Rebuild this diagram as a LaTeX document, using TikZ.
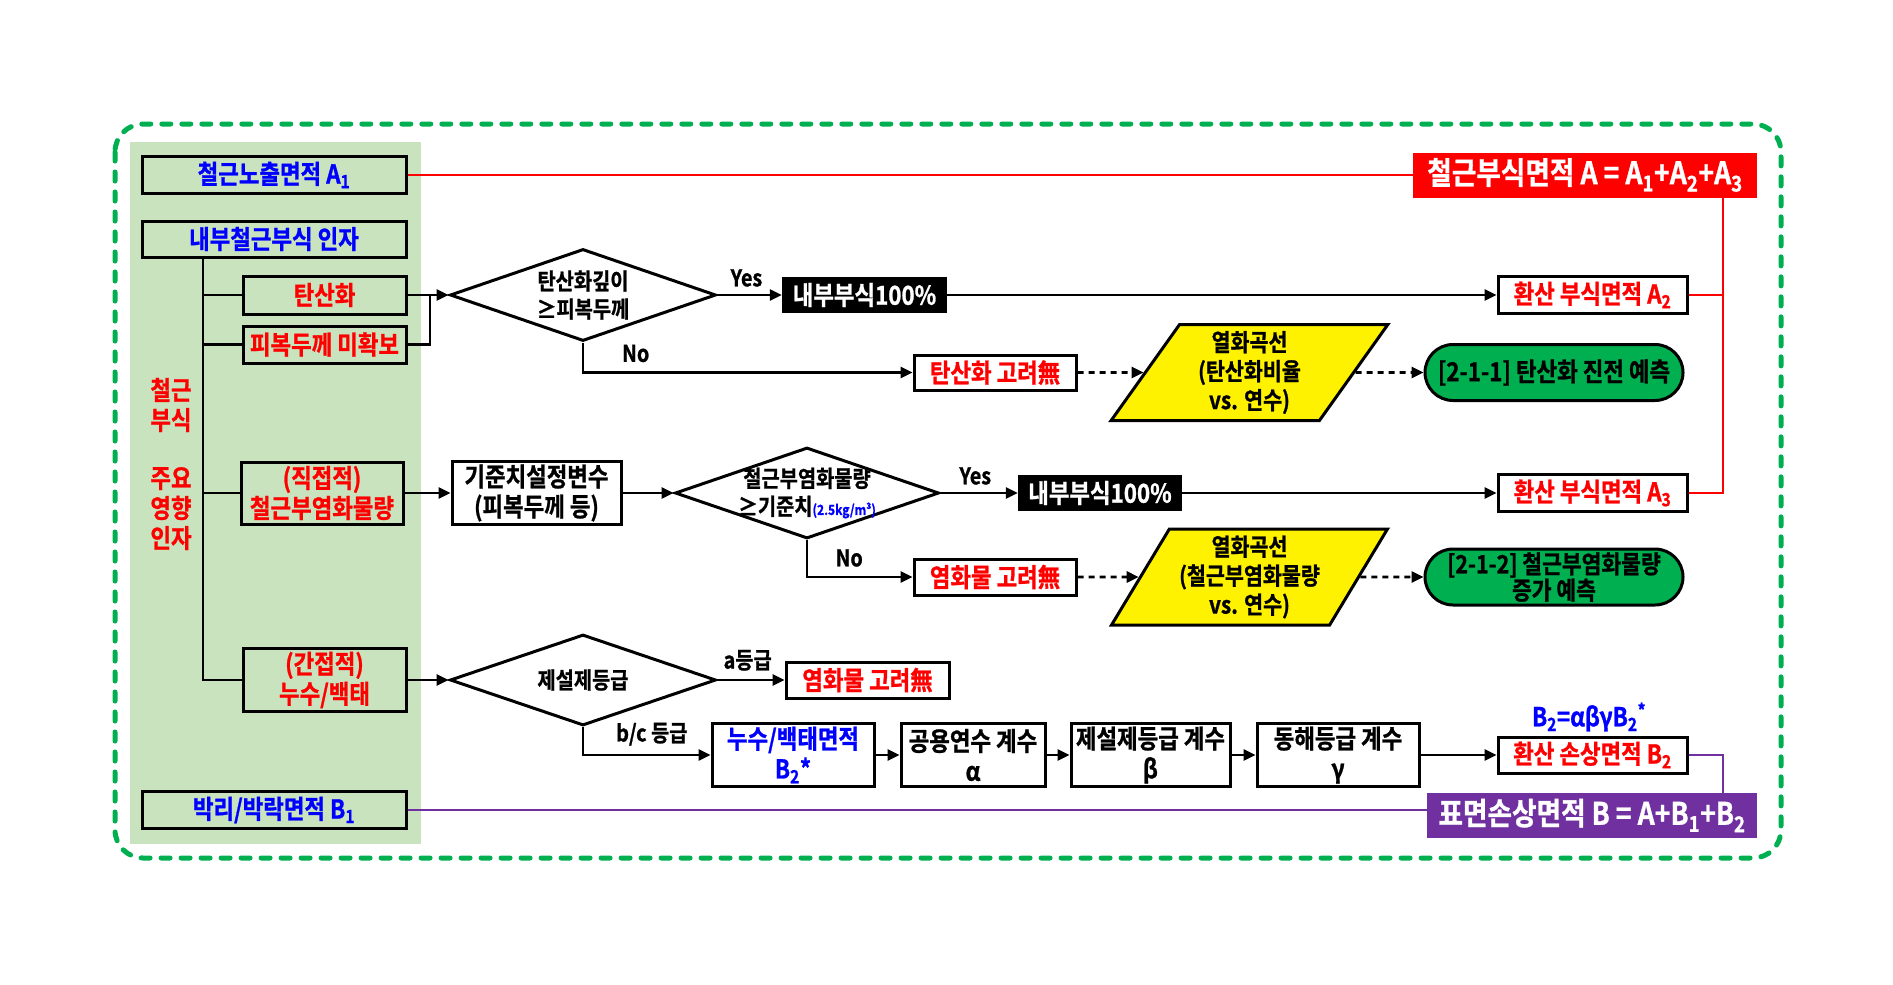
\documentclass[tikz,border=0pt]{standalone}
\usepackage{fontspec}
\setmainfont{Noto Sans CJK KR Bold}[FakeStretch=0.86,FakeBold=1]
\usetikzlibrary{arrows.meta,shapes.geometric,shapes.misc}
\definecolor{panel}{RGB}{201,227,190}
\definecolor{grn}{RGB}{0,176,80}
\definecolor{purp}{RGB}{112,48,160}
\newcommand\subt[1]{\textsubscript{#1}}
\begin{document}
\begin{tikzpicture}[x=1pt,y=-1pt,font=\fontsize{26}{30}\selectfont,
  box/.style={draw,line width=3pt,inner sep=0pt,align=center},
  sz/.style 2 args={minimum width=#1pt,minimum height=#2pt},
  result/.style={fill=black,text=white,inner sep=0pt},
  decision/.style={diamond,draw,line width=3pt,inner sep=0pt},
  curve/.style={trapezium,trapezium left angle=59,trapezium right angle=121,
    trapezium stretches=true,draw,line width=3pt,fill=yellow,inner sep=2pt,align=center,
    font=\fontsize{24}{29}\selectfont},
  predict/.style={rounded rectangle,draw,line width=3pt,fill=grn,inner sep=0pt,align=center},
  total/.style={inner sep=0pt,text=white,font=\fontsize{31}{34}\selectfont},
  line/.style={line width=2.7pt},
  flow/.style={line,-{Triangle[length=12pt,width=11pt]}},
  dflow/.style={flow,dash pattern=on 6pt off 5pt},
  lab/.style={inner sep=0pt,font=\fontsize{23}{26}\selectfont},
  small/.style={font=\fontsize{23}{28}\selectfont,align=center}]
\useasboundingbox (0,0) rectangle (1893,985);
\fill[panel] (130,142) rectangle (421,844);
\draw[grn,line width=5pt,dash pattern=on 9pt off 11pt,line cap=round,rounded corners=28pt]
  (115,124) rectangle (1781,858);

\node[box,sz={264}{37},text=blue] (a1) at (274,175) {철근노출면적 A\subt{1}};
\node[box,sz={264}{36},text=blue] (inner) at (274,239) {내부철근부식 인자};
\node[box,sz={163}{38},text=red] (carb) at (324.5,295) {탄산화};
\node[box,sz={163}{37},text=red] (cover) at (324.5,344.5) {피복두께 미확보};
\node[box,sz={162}{62},text=red] (chl) at (322,493) {(직접적)\\철근부염화물량};
\node[box,sz={163}{63},text=red] (leak) at (324.5,680) {(간접적)\\누수/백태};
\node[box,sz={264}{37},text=blue] (b1) at (274,810) {박리/박락면적 B\subt{1}};
\node[text=red,align=center] (factor) at (171,464) {철근\\부식\\[28pt]주요\\영향\\인자};

\node[decision,sz={266}{92}] (dia1) at (583,295) {};
\node[small] at (dia1) {탄산화깊이\\≥피복두께};
\node[result,sz={165}{36}] (deep1) at (864.5,295) {내부부식100\%};
\node[box,sz={189}{37},text=red] (a2) at (1592.5,295) {환산 부식면적 A\subt{2}};
\node[box,sz={162}{35},text=red] (nocarb) at (995,372.5) {탄산화 고려無};
\node[curve,sz={277}{96}] (curve1) at (1249.5,372.5) {열화곡선\\(탄산화비율\\vs. 연수)};
\node[predict,sz={258}{56}] (pred1) at (1554,372.5) {[2-1-1] 탄산화 진전 예측};
\node[total,fill=red,sz={344}{45}] (sumA) at (1585,175) {철근부식면적 A = A\subt{1}+A\subt{2}+A\subt{3}};

\node[box,sz={169}{63}] (base) at (536.5,493) {기준치설정변수\\(피복두께 등)};
\node[decision,sz={264}{91}] (dia2) at (807,493) {};
\node[small] at (dia2) {철근부염화물량\\≥기준치{\color{blue}\fontsize{14}{15}\selectfont(2.5kg/m³)}};
\node[result,sz={164}{36}] (deep2) at (1100,493) {내부부식100\%};
\node[box,sz={189}{37},text=red] (a3) at (1592.5,493) {환산 부식면적 A\subt{3}};
\node[box,sz={162}{36},text=red] (nochl1) at (995,577) {염화물 고려無};
\node[curve,sz={277}{96}] (curve2) at (1249.5,577) {열화곡선\\(철근부염화물량\\vs. 연수)};
\node[predict,sz={258}{56},font=\fontsize{25}{25}\selectfont] (pred2) at (1554,577)
  {[2-1-2] 철근부염화물량\\증가 예측};

\node[decision,sz={266}{91}] (dia3) at (583,680) {};
\node[small] at (dia3) {제설제등급};
\node[box,sz={163}{36},text=red] (nochl2) at (867.5,680) {염화물 고려無};
\node[box,sz={162}{63},text=blue] (b2s) at (793,755) {누수/백태면적\\B\subt{2}*};
\node[box,sz={144}{63}] (alpha) at (973,755) {공용연수 계수\\α};
\node[box,sz={159}{63}] (beta) at (1150.5,755) {제설제등급 계수\\β};
\node[box,sz={162}{63}] (gamma) at (1338,755) {동해등급 계수\\γ};
\node[box,sz={189}{36},text=red] (b2) at (1592.5,755) {환산 손상면적 B\subt{2}};
\node[text=blue,inner sep=0pt] (b2eq) at (1589,717) {B\subt{2}=αβγB\subt{2}\textsuperscript{*}};
\node[total,fill=purp,sz={330}{45}] (sumB) at (1592,815.5) {표면손상면적 B = A+B\subt{1}+B\subt{2}};

\coordinate (top) at (203,257);
\coordinate (j1) at (430,295);
\coordinate (rv) at (1723,197.5);
\coordinate (pv) at (1723,793);
\draw[line] (top) |- (leak.west);
\foreach \n in {carb,cover,chl} \draw[line] (top |- \n.west) -- (\n.west);
\draw[flow] (carb.east) -- (dia1.west);
\draw[line] (cover.east) -| (j1);
\draw[flow] (dia1.east) -- node[lab,above=7pt,pos=0.45] {Yes} (deep1.west);
\draw[flow] (deep1.east) -- (a2.west);
\draw[flow] (dia1.south) |- node[lab,above=9pt,pos=0.58] {No} (nocarb.west);
\draw[dflow] (nocarb.east) -- (curve1);
\draw[dflow] (curve1) -- (pred1.west);

\draw[flow] (chl.east) -- (base.west);
\draw[flow] (base.east) -- (dia2.west);
\draw[flow] (dia2.east) -- node[lab,above=7pt,pos=0.45] {Yes} (deep2.west);
\draw[flow] (deep2.east) -- (a3.west);
\draw[flow] (dia2.south) |- node[lab,above=9pt,pos=0.7] {No} (nochl1.west);
\draw[dflow] (nochl1.east) -- (curve2);
\draw[dflow] (curve2) -- (pred2.west);

\draw[flow] (leak.east) -- (dia3.west);
\draw[flow] (dia3.east) -- node[lab,above=8pt,pos=0.45] {a등급} (nochl2.west);
\draw[flow] (dia3.south) |- node[lab,above=8pt,pos=0.77] {b/c 등급} (b2s.west);
\draw[flow] (b2s.east) -- (alpha.west);
\draw[flow] (alpha.east) -- (beta.west);
\draw[flow] (beta.east) -- (gamma.west);
\draw[flow] (gamma.east) -- (b2.west);

\draw[line,red] (a1.east) -- (sumA.west);
\draw[line,red] (a2.east) -| (rv);
\draw[line,red] (a3.east) -| (rv);
\draw[line,purp] (b1.east) -- (b1.east -| sumB.west);
\draw[line,purp] (b2.east) -| (pv);
\end{tikzpicture}
\end{document}
